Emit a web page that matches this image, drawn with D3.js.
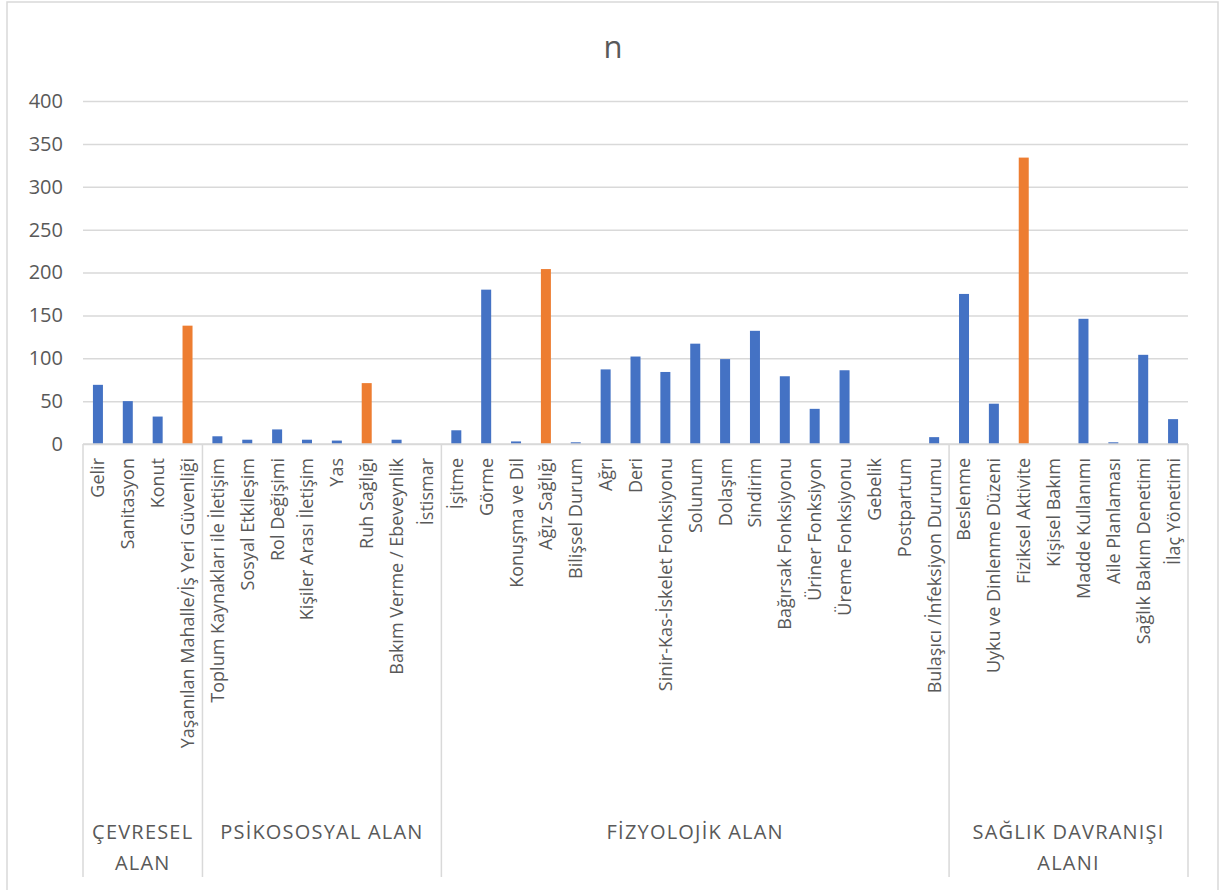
<!DOCTYPE html>
<html>
<head>
<meta charset="utf-8">
<script src="https://cdn.jsdelivr.net/npm/d3@7"></script>
<style>
  html, body { margin: 0; padding: 0; background: #fff; }
  svg { display: block; }
  text { font-family: "Open Sans", "Noto Sans", sans-serif; fill: #595959; }
</style>
</head>
<body>
<svg id="chart" width="1228" height="890"></svg>
<script>
// Domain groups and their categories
const groups = ["ÇEVRESEL ALAN", "PSİKOSOSYAL ALAN", "FİZYOLOJİK ALAN", "SAĞLIK DAVRANIŞI ALANI"];
const groupLines = [["ÇEVRESEL", "ALAN"], ["PSİKOSOSYAL ALAN"], ["FİZYOLOJİK ALAN"], ["SAĞLIK DAVRANIŞI", "ALANI"]];

const categories = [
  "Gelir", "Sanitasyon", "Konut", "Yaşanılan Mahalle/İş Yeri Güvenliği",
  "Toplum Kaynakları ile İletişim", "Sosyal Etkileşim", "Rol Değişimi", "Kişiler Arası İletişim",
  "Yas", "Ruh Sağlığı", "Bakım Verme / Ebeveynlik", "İstismar",
  "İşitme", "Görme", "Konuşma ve Dil", "Ağız Sağlığı", "Bilişsel Durum", "Ağrı", "Deri",
  "Sinir-Kas-İskelet Fonksiyonu", "Solunum", "Dolaşım", "Sindirim", "Bağırsak Fonksiyonu",
  "Üriner Fonksiyon", "Üreme Fonksiyonu", "Gebelik", "Postpartum", "Bulaşıcı /İnfeksiyon Durumu",
  "Beslenme", "Uyku ve Dinlenme Düzeni", "Fiziksel Aktivite", "Kişisel Bakım",
  "Madde Kullanımı", "Aile Planlaması", "Sağlık Bakım Denetimi", "İlaç Yönetimi"
];
const categoryGroup = [
  0, 0, 0, 0,
  1, 1, 1, 1, 1, 1, 1, 1,
  2, 2, 2, 2, 2, 2, 2, 2, 2, 2, 2, 2, 2, 2, 2, 2, 2,
  3, 3, 3, 3, 3, 3, 3, 3
];
const values = [
  69, 50, 32, 138,
  9, 5, 17, 5, 4, 71, 5, 0,
  16, 180, 3, 204, 2, 87, 102, 84, 117, 99, 132, 79, 41, 86, 0, 0, 8,
  175, 47, 334, 0, 146, 2, 104, 29
];
// Highest item of each domain, drawn in orange
const highlighted = ["Yaşanılan Mahalle/İş Yeri Güvenliği", "Ruh Sağlığı", "Ağız Sağlığı", "Fiziksel Aktivite"];
const yTicks = [0, 50, 100, 150, 200, 250, 300, 350, 400];
const title = "n";

const svg = d3.select("#chart");
const plot = { left: 83, right: 1188, top: 101, bottom: 444 };
const axisBottom = 877;

// Chart border
svg.append("rect")
  .attr("x", 7).attr("y", 2).attr("width", 1211).attr("height", 900)
  .attr("fill", "#fff").attr("stroke", "#D9D9D9").attr("stroke-width", 1.5);

const x = d3.scaleBand().domain(categories).range([plot.left, plot.right]).paddingInner(0).paddingOuter(0);
const y = d3.scaleLinear().domain([0, 400]).range([plot.bottom, plot.top]);

// Title
svg.append("text")
  .attr("x", 613).attr("y", 58)
  .attr("text-anchor", "middle")
  .style("font-size", "31px")
  .text(title);

// Gridlines and y tick labels
const yAxis = d3.axisLeft(y).tickValues(yTicks).tickSize(-(plot.right - plot.left)).tickPadding(20).tickFormat(d3.format("d"));
const gy = svg.append("g").attr("transform", `translate(${plot.left},0)`).call(yAxis);
gy.select(".domain").remove();
gy.selectAll(".tick line").attr("stroke", "#D9D9D9").attr("stroke-width", 1.5);
gy.selectAll(".tick text")
  .attr("x", -20)
  .style("font-size", "20px")
  .style("font-family", "'Open Sans', sans-serif")
  .attr("fill", "#595959");

// Bars
const barW = 10;
svg.append("g").selectAll("rect")
  .data(categories.map((c, i) => ({ c, v: values[i] })))
  .join("rect")
  .attr("x", d => x(d.c) + x.bandwidth() / 2 - barW / 2)
  .attr("y", d => y(d.v))
  .attr("width", barW)
  .attr("height", d => y(0) - y(d.v))
  .attr("fill", d => highlighted.includes(d.c) ? "#ED7D31" : "#4472C4");

// Category axis line
svg.append("line")
  .attr("x1", plot.left).attr("x2", plot.right)
  .attr("y1", plot.bottom).attr("y2", plot.bottom)
  .attr("stroke", "#D9D9D9").attr("stroke-width", 1.5);

// Group separators
const boundaries = [];
categoryGroup.forEach((g, i) => {
  if (i === 0 || categoryGroup[i - 1] !== g) boundaries.push(x(categories[i]));
});
boundaries.push(plot.right);
svg.append("g").selectAll("line")
  .data(boundaries)
  .join("line")
  .attr("x1", d => d).attr("x2", d => d)
  .attr("y1", plot.bottom).attr("y2", axisBottom)
  .attr("stroke", "#D9D9D9").attr("stroke-width", 1.5);

// Rotated category labels
svg.append("g").selectAll("text")
  .data(categories)
  .join("text")
  .attr("transform", d => `translate(${x(d) + x.bandwidth() / 2},458) rotate(-90)`)
  .attr("text-anchor", "end")
  .attr("dy", "0.36em")
  .style("font-size", "18px")
  .text(d => d);

// Group labels
groups.forEach((g, gi) => {
  const idx = categoryGroup.map((v, i) => v === gi ? i : -1).filter(i => i >= 0);
  const x0 = x(categories[idx[0]]);
  const x1 = x(categories[idx[idx.length - 1]]) + x.bandwidth();
  const cx = (x0 + x1) / 2;
  const t = svg.append("text")
    .attr("x", cx)
    .attr("y", 839)
    .attr("text-anchor", "middle")
    .style("font-size", "20px")
    .style("letter-spacing", "1.2px");
  groupLines[gi].forEach((line, li) => {
    t.append("tspan").attr("x", cx).attr("dy", li === 0 ? 0 : 31).text(line);
  });
});
</script>
</body>
</html>
